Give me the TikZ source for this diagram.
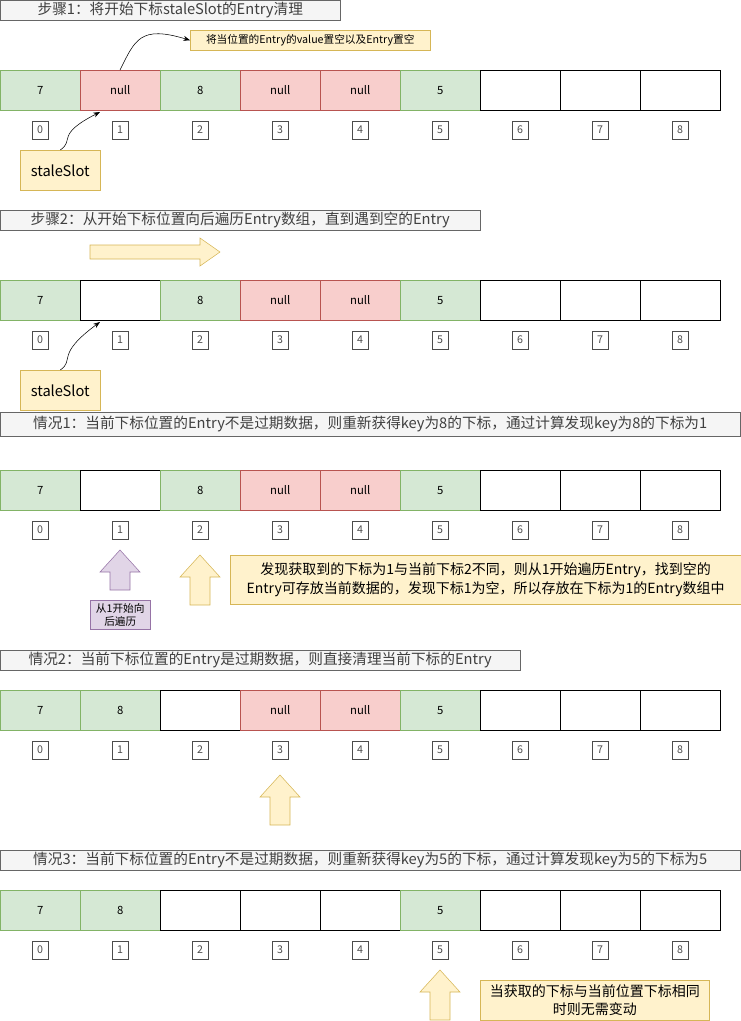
\documentclass[tikz,border=0pt]{standalone}
\usepackage{fontspec}
\setmainfont{Noto Sans CJK SC}
\usetikzlibrary{arrows.meta}
\definecolor{ok_fill}{HTML}{D5E8D4}
\definecolor{ok_line}{HTML}{82B366}
\definecolor{bad_fill}{HTML}{F8CECC}
\definecolor{bad_line}{HTML}{B85450}
\definecolor{note_fill}{HTML}{FFF2CC}
\definecolor{note_line}{HTML}{D6B656}
\definecolor{lila_fill}{HTML}{E1D5E7}
\definecolor{lila_line}{HTML}{9673A6}
\definecolor{title_fill}{HTML}{F5F5F5}
\definecolor{title_line}{HTML}{666666}

\tikzset{
 cell/.style={draw, minimum width=60pt, minimum height=30pt, inner sep=0pt, anchor=north west, font=\fontsize{8.5}{9}\selectfont},
 ok/.style={cell, fill=ok_fill, draw=ok_line},
 bad/.style={cell, fill=bad_fill, draw=bad_line},
 free/.style={cell, fill=white, draw=black},
 idx/.style={draw=black!70, minimum width=12pt, minimum height=13.5pt, inner sep=0pt, font=\fontsize{8}{8}\selectfont, text=black!70},
 title/.style={draw=title_line, fill=title_fill, anchor=north west, inner sep=0pt, font=\fontsize{11}{12}\selectfont, text=black!75},
 note/.style={draw=note_line, fill=note_fill, inner sep=2pt, align=center},
 curvearr/.style={-{Stealth[length=5pt]}, black},
}

% one row of the Entry array plus its index boxes
\newcommand{\entryrow}[3]{%
 \foreach \s/\t [count=\i from 0] in {#3} {
  \node[\s] (#1c\i) at (\i*80,#2) {\t};
  \node[idx] (#1i\i) at (40+\i*80,#2+60) {\i};
 }}

% block arrow pointing up
\newcommand{\uparr}[5]{%
 \draw[draw=#5, fill=#4] (#1-10,#3) -- (#1-10,#2+22) -- (#1-20,#2+22) -- (#1,#2)
  -- (#1+20,#2+22) -- (#1+10,#2+22) -- (#1+10,#3) -- cycle;}

\begin{document}
\begin{tikzpicture}[x=0.75pt,y=-0.75pt]
\useasboundingbox (0,0) rectangle (741,1021);

%% step 1
\node[title, minimum width=255pt, minimum height=15pt] (t1) at (0,0) {步骤1：将开始下标staleSlot的Entry清理};
\entryrow{a}{70}{ok/7,bad/null,ok/8,bad/null,bad/null,ok/5,free/,free/,free/}
\node[note, draw=note_line, fill=note_fill, minimum width=180pt, minimum height=15pt, anchor=north west, inner sep=0pt, font=\fontsize{8}{8}\selectfont] (n1) at (190,30) {将当位置的Entry的value置空以及Entry置空};
\node[note, minimum width=60pt, minimum height=30pt, anchor=north west, font=\fontsize{11}{12}\selectfont] (s1) at (20,150) {staleSlot};
\draw[curvearr] (s1.north) .. controls (75,140) and (55,135) .. (100,112);
\draw[curvearr] (120,70) .. controls (135,40) and (140,25) .. (n1.west);

%% step 2
\node[title, minimum width=360pt, minimum height=15pt] (t2) at (0,210) {步骤2：从开始下标位置向后遍历Entry数组，直到遇到空的Entry};
\draw[draw=note_line, fill=note_fill] (90,245) -- (200,245) -- (200,238) -- (220,252) -- (200,266) -- (200,259) -- (90,259) -- cycle;
\entryrow{b}{280}{ok/7,free/,ok/8,bad/null,bad/null,ok/5,free/,free/,free/}
\node[note, minimum width=60pt, minimum height=30pt, anchor=north west, font=\fontsize{11}{12}\selectfont] (s2) at (20,370) {staleSlot};
\draw[curvearr] (s2.north) .. controls (75,360) and (55,355) .. (100,322);

%% case 1
\node[title, minimum width=555pt, minimum height=18pt] (t3) at (0,412) {情况1：当前下标位置的Entry不是过期数据，则重新获得key为8的下标，通过计算发现key为8的下标为1};
\entryrow{c}{470}{ok/7,free/,ok/8,bad/null,bad/null,ok/5,free/,free/,free/}
\uparr{120}{550}{590}{lila_fill}{lila_line}
\node[note, draw=lila_line, fill=lila_fill, anchor=north west, minimum width=45pt, minimum height=22pt, inner sep=0pt, font=\fontsize{8}{9.5}\selectfont] (p1) at (90,600) {从1开始向\\后遍历};
\uparr{200}{555}{605}{note_fill}{note_line}
\node[note, anchor=north west, minimum width=383pt, minimum height=37pt, inner sep=0pt, font=\fontsize{10.5}{14}\selectfont] (n3) at (230,555) {发现获取到的下标为1与当前下标2不同，则从1开始遍历Entry，找到空的\\Entry可存放当前数据的，发现下标1为空，所以存放在下标为1的Entry数组中};

%% case 2
\node[title, minimum width=390pt, minimum height=15pt] (t4) at (0,650) {情况2：当前下标位置的Entry是过期数据，则直接清理当前下标的Entry};
\entryrow{d}{690}{ok/7,ok/8,free/,bad/null,bad/null,ok/5,free/,free/,free/}
\uparr{280}{775}{825}{note_fill}{note_line}

%% case 3
\node[title, minimum width=555pt, minimum height=15pt] (t5) at (0,850) {情况3：当前下标位置的Entry不是过期数据，则重新获得key为5的下标，通过计算发现key为5的下标为5};
\entryrow{e}{890}{ok/7,ok/8,free/,free/,free/,ok/5,free/,free/,free/}
\uparr{440}{970}{1020}{note_fill}{note_line}
\node[note, anchor=north west, minimum width=172pt, minimum height=30pt, inner sep=0pt, font=\fontsize{10.5}{13}\selectfont] (n5) at (480,980) {当获取的下标与当前位置下标相同\\时则无需变动};
\end{tikzpicture}
\end{document}
